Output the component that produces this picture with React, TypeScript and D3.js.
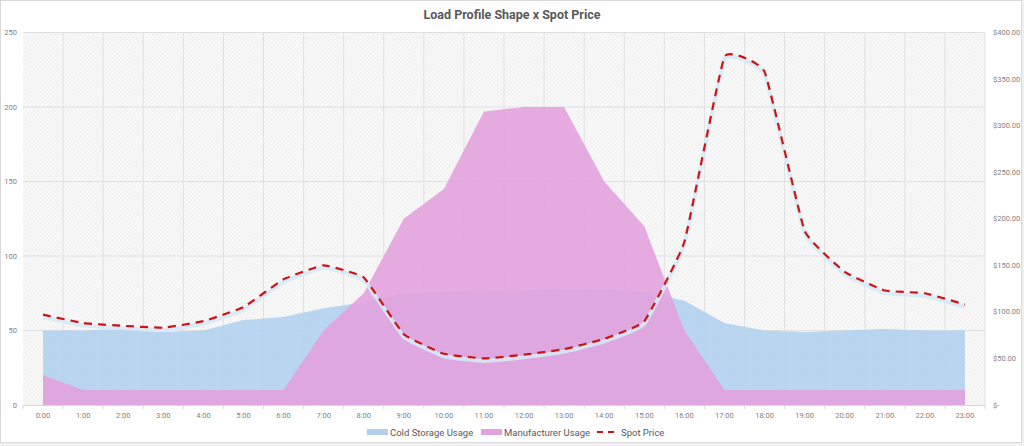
import React, { useEffect, useRef } from "react";
import * as d3 from "d3";

const hours = [
  "0:00", "1:00", "2:00", "3:00", "4:00", "5:00", "6:00", "7:00", "8:00", "9:00", "10:00", "11:00",
  "12:00", "13:00", "14:00", "15:00", "16:00", "17:00", "18:00", "19:00", "20:00", "21:00", "22:00", "23:00",
];
const coldStorage = [50, 50, 51, 49, 50, 57, 59, 65, 69, 75, 76, 77, 77, 78, 78, 76, 70, 55, 50, 49, 50, 51, 50, 50];
const manufacturer = [20, 10, 10, 10, 10, 10, 10, 50, 75, 125, 145, 197, 200, 200, 150, 120, 50, 10, 10, 10, 10, 10, 10, 10];
const spotPrice = [97, 88, 85, 83, 90, 105, 135, 150, 137, 76, 55, 50, 54, 60, 71, 90, 175, 374, 358, 187, 143, 123, 120, 108];
const leftTicks = [0, 50, 100, 150, 200, 250];
const rightTicks = [0, 50, 100, 150, 200, 250, 300, 350, 400];

const W = 1024, H = 446;
const FONT = "Roboto, 'Open Sans', sans-serif";

const App = () => {
  const svgRef = useRef<SVGSVGElement>(null);

  useEffect(() => {
    const svg = d3.select(svgRef.current);
    svg.selectAll("*").remove();

    const left = 23, right = 985, top = 32.5, bottom = 405;

    // frame
    svg.append("rect").attr("width", W).attr("height", H).attr("fill", "#f0f0f0");
    svg.append("rect")
      .attr("x", 0.5).attr("y", 0.5).attr("width", W - 3).attr("height", H - 4)
      .attr("fill", "#fff").attr("stroke", "#d9d9d9");

    // crosshatch pattern for plot background
    const pat = svg.append("defs").append("pattern")
      .attr("id", "hatch").attr("width", 3).attr("height", 3)
      .attr("patternUnits", "userSpaceOnUse").attr("patternTransform", "rotate(45)");
    pat.append("rect").attr("width", 3).attr("height", 3).attr("fill", "#f9f9f9");
    pat.append("line").attr("x1", 0).attr("y1", 0).attr("x2", 0).attr("y2", 3)
      .attr("stroke", "#ececec").attr("stroke-width", 1);
    pat.append("line").attr("x1", 0).attr("y1", 0).attr("x2", 3).attr("y2", 0)
      .attr("stroke", "#efefef").attr("stroke-width", 1);

    const x = d3.scaleBand().domain(hours).range([left, right]);
    const xc = (h: string) => (x(h) as number) + x.bandwidth() / 2;
    const y = d3.scaleLinear().domain([0, 250]).range([bottom, top]);
    const y2 = d3.scaleLinear().domain([0, 400]).range([bottom, top]);

    svg.append("rect")
      .attr("x", left).attr("y", top).attr("width", right - left).attr("height", bottom - top)
      .attr("fill", "url(#hatch)");

    // gridlines
    svg.append("g").selectAll("line").data(leftTicks.slice(1)).join("line")
      .attr("x1", left).attr("x2", right)
      .attr("y1", (d) => y(d)).attr("y2", (d) => y(d))
      .attr("stroke", "#e0e0e0").attr("stroke-width", 1);
    svg.append("g").selectAll("line").data(d3.range(1, hours.length + 1)).join("line")
      .attr("x1", (d) => left + d * x.bandwidth())
      .attr("x2", (d) => left + d * x.bandwidth())
      .attr("y1", top).attr("y2", bottom)
      .attr("stroke", "#e0e0e0").attr("stroke-width", 1);

    // areas
    const area = d3.area<number>()
      .x((d, i) => xc(hours[i]))
      .y0(y(0))
      .y1((d) => y(d));
    svg.append("path").datum(coldStorage)
      .attr("fill", "#b3d1ee").attr("fill-opacity", 0.92).attr("d", area);
    svg.append("path").datum(manufacturer)
      .attr("fill", "#e3a2de").attr("fill-opacity", 0.9).attr("d", area);

    // spot price line with soft shadow
    const line = d3.line<number>()
      .x((d, i) => xc(hours[i]))
      .y((d) => y2(d))
      .curve(d3.curveCardinal.tension(0.7));
    svg.append("path").datum(spotPrice)
      .attr("fill", "none").attr("stroke", "#d6eaf7").attr("stroke-width", 4)
      .attr("stroke-opacity", 0.9)
      .attr("transform", "translate(0,2.5)").attr("d", line);
    svg.append("path").datum(spotPrice)
      .attr("fill", "none").attr("stroke", "#cc1414").attr("stroke-width", 2.2)
      .attr("stroke-dasharray", "8,6").attr("d", line);

    // x axis
    svg.append("line").attr("x1", left).attr("x2", right).attr("y1", bottom + 0.5).attr("y2", bottom + 0.5)
      .attr("stroke", "#d9d9d9");
    svg.append("g").selectAll("line").data(d3.range(hours.length + 1)).join("line")
      .attr("x1", (d) => left + d * x.bandwidth()).attr("x2", (d) => left + d * x.bandwidth())
      .attr("y1", bottom).attr("y2", bottom + 4)
      .attr("stroke", "#d9d9d9");
    svg.append("g").selectAll("text").data(hours).join("text")
      .attr("x", (d) => xc(d)).attr("y", 418)
      .attr("text-anchor", "middle")
      .style("font-family", FONT).style("font-size", "7.5px").attr("fill", "#7f7f7f")
      .text((d) => d);

    // left axis labels
    svg.append("g").selectAll("text").data(leftTicks).join("text")
      .attr("x", 17).attr("y", (d) => y(d) + 2.5)
      .attr("text-anchor", "end")
      .style("font-family", FONT).style("font-size", "7.5px").attr("fill", "#7f7f7f")
      .text((d) => d);

    // right axis labels
    const fmt = (d: number) => (d === 0 ? "$-" : "$" + d3.format(".2f")(d));
    svg.append("g").selectAll("text").data(rightTicks).join("text")
      .attr("x", 993).attr("y", (d) => y2(d) + 2.5)
      .attr("text-anchor", "start")
      .style("font-family", FONT).style("font-size", "7.5px").attr("fill", "#7f7f7f")
      .text((d) => fmt(d));

    // title
    svg.append("text")
      .attr("x", 512).attr("y", 19)
      .attr("text-anchor", "middle")
      .style("font-family", FONT).style("font-size", "12.5px").style("font-weight", "bold")
      .attr("fill", "#595959")
      .text("Load Profile Shape x Spot Price");

    // legend
    const legend = [
      { label: "Cold Storage Usage", color: "#b3d1ee", kind: "area", x: 367 },
      { label: "Manufacturer Usage", color: "#e3a2de", kind: "area", x: 481 },
      { label: "Spot Price", color: "#cc1414", kind: "line", x: 597 },
    ];
    const lg = svg.append("g").selectAll("g").data(legend).join("g")
      .attr("transform", (d) => `translate(${d.x},432)`);
    lg.filter((d) => d.kind === "area").append("rect")
      .attr("x", 0).attr("y", -3).attr("width", 21).attr("height", 6)
      .attr("fill", (d) => d.color);
    lg.filter((d) => d.kind === "line").append("line")
      .attr("x1", 0).attr("x2", 18).attr("y1", 0).attr("y2", 0)
      .attr("stroke", (d) => d.color).attr("stroke-width", 2).attr("stroke-dasharray", "6,5");
    lg.append("text")
      .attr("x", (d) => (d.kind === "line" ? 24 : 23)).attr("y", 3.5)
      .style("font-family", FONT).style("font-size", "9.5px").attr("fill", "#595959")
      .text((d) => d.label);
  }, []);

  return (
    <svg ref={svgRef} width={W} height={H} style={{ position: "absolute", left: 0, top: 0 }}></svg>
  );
};

export default App;
